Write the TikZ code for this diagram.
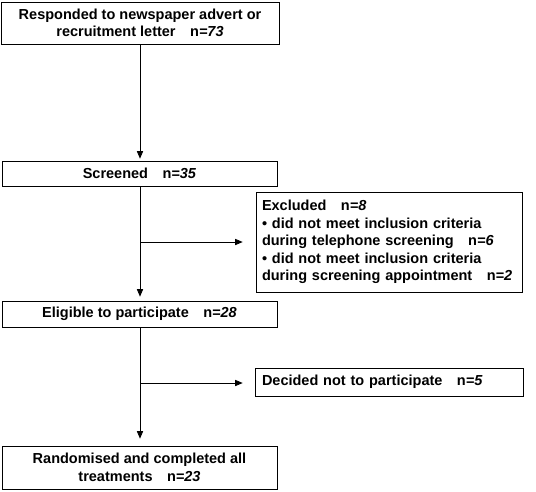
\documentclass[tikz,border=0pt]{standalone}
\usepackage{fontspec}
\setmainfont{Liberation Sans}
\usetikzlibrary{arrows,positioning,calc}

\tikzset{
  box/.style={draw, line width=0.7pt, inner sep=2pt, align=center, font=\bfseries\fontsize{14.5}{17.5}\selectfont},
  sidebox/.style={box, align=left, text width=254pt},
}
\newcommand{\nval}[1]{n\textit{=#1}}

\begin{document}
\begin{tikzpicture}[x=1pt,y=-1pt]
		\useasboundingbox (0,0) rectangle (536,491);
		\node[box, minimum width=278pt, minimum height=42pt] (R) at (140,23) {Responded to newspaper advert or\\ recruitment letter\quad \nval{73}};
		\node[box, minimum width=275pt, minimum height=25pt] (S) at (139.5,173.5) {Screened\quad \nval{35}};
		\node[sidebox, minimum width=266pt, minimum height=100pt] (X) at (389,242) {Excluded\quad \nval{8}\\ {\textbullet} did not meet inclusion criteria\\ during telephone screening\quad \nval{6}\\ {\textbullet}\ did not meet inclusion criteria\\ during screening appointment\quad \nval{2}};
		\node[box, minimum width=275pt, minimum height=26pt] (E) at (139.5,314) {Eligible to participate\quad \nval{28}};
		\node[sidebox, minimum width=268pt, minimum height=28pt] (D) at (389,382) {Decided not to participate\quad \nval{5}};
		\node[box, minimum width=275pt, minimum height=43pt] (T) at (139.5,467.5) {Randomised and completed all\\ treatments\quad \nval{23}};
		
		\coordinate (b1) at (140,242);
		\coordinate (b2) at (140,383);
		
		\path[->, line width=0.7pt, >=triangle 45, shorten >=2pt] (R.south -| b1) edge (S.north -| b1);
		\path[->, line width=0.7pt, >=triangle 45, shorten >=4pt] (S.south -| b1) edge (E.north -| b1);
		\path[->, line width=0.7pt, >=triangle 45, shorten >=7pt] (E.south -| b1) edge (T.north -| b1);
		\path[->, line width=0.7pt, >=triangle 45, shorten >=13pt] (b1) edge (b1 -| X.west);
		\path[->, line width=0.7pt, >=triangle 45, shorten >=12pt] (b2) edge (b2 -| D.west);
		\end{tikzpicture}
\end{document}
